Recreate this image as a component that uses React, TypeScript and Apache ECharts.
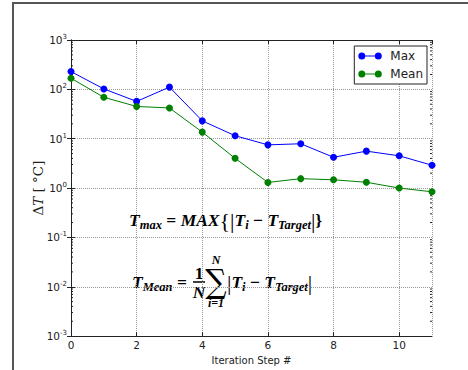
import React, { useEffect, useRef } from 'react';
import * as echarts from 'echarts';

const STEPS = [0, 1, 2, 3, 4, 5, 6, 7, 8, 9, 10, 11];
const MAX_VALUES = [229, 102, 57, 111, 23, 11.5, 7.5, 7.9, 4.2, 5.6, 4.5, 2.9];
const MEAN_VALUES = [168, 69, 45, 42, 13.6, 4.0, 1.3, 1.55, 1.47, 1.31, 1.0, 0.84];
const SERIES_NAMES = ['Max', 'Mean'];
const X_MIN = 0;
const X_MAX = 11;
const X_INTERVAL = 2;
const Y_MIN = 0.001;
const Y_MAX = 1000;
const DECADES = [0.001, 0.01, 0.1, 1, 10, 100];
const MINOR_MULTIPLIERS = [2, 3, 4, 5, 6, 7, 8, 9];

const MINOR_TICKS: number[][] = [];
DECADES.forEach((d) => MINOR_MULTIPLIERS.forEach((m) => MINOR_TICKS.push([X_MIN, d * m])));

const TXT = '#222';
const SANS = 'DejaVu Sans';
const SERIF = 'Liberation Serif';

const LEGEND_ICON =
  'path://M0,3.5A3.5,3.5,0,1,0,7,3.5A3.5,3.5,0,1,0,0,3.5Z' +
  'M16.5,3.5A3.5,3.5,0,1,0,23.5,3.5A3.5,3.5,0,1,0,16.5,3.5Z' +
  'M7,3L16.5,3L16.5,4L7,4Z' +
  'M27,3.5';

const mathRich = {
  m: { fontSize: 17.5, fontFamily: SERIF, fontWeight: 'bold', fontStyle: 'italic', fill: '#000' },
  u: { fontSize: 17.5, fontFamily: SERIF, fontWeight: 'bold', fill: '#000' },
  s: { fontSize: 12.5, fontFamily: SERIF, fontWeight: 'bold', fontStyle: 'italic', padding: [9, 0, 0, 0], fill: '#000' },
  d: { fontSize: 22, fontFamily: SERIF, fill: '#000' },
};

export default function App() {
  const ref = useRef<HTMLDivElement>(null);
  useEffect(() => {
    document.body.style.margin = '0';
    const chart = echarts.init(ref.current!, null, { renderer: 'svg' });
    const sideAxis = {
      axisLine: { show: true, lineStyle: { color: TXT, width: 1 } },
      axisTick: { show: true, inside: true, length: 4, lineStyle: { color: TXT } },
      axisLabel: { show: false },
      splitLine: { show: false },
    };
    const mathText = (x: number, y: number, text: string, extra: any = {}) => ({
      type: 'text',
      silent: true,
      x,
      y,
      style: {
        text,
        align: extra.align || 'left',
        verticalAlign: 'middle',
        fontSize: 17.5,
        fontFamily: SERIF,
        fontWeight: 'bold',
        fill: '#000',
        rich: mathRich,
        ...(extra.style || {}),
      },
    });
    chart.setOption({
      animation: false,
      backgroundColor: '#fff',
      grid: { left: 71, right: 36, top: 40, bottom: 33 },
      legend: {
        data: SERIES_NAMES.map((n) => ({ name: n, icon: LEGEND_ICON })),
        orient: 'vertical',
        right: 41,
        top: 46,
        itemWidth: 27,
        itemHeight: 7,
        itemGap: 6,
        padding: [4, 4, 4, 4],
        borderColor: TXT,
        borderWidth: 1,
        backgroundColor: '#fff',
        borderRadius: 0,
        textStyle: { fontSize: 12, fontFamily: SANS, color: TXT },
      },
      xAxis: [
        {
          type: 'value',
          min: X_MIN,
          max: X_MAX,
          interval: X_INTERVAL,
          name: 'Iteration Step #',
          nameLocation: 'middle',
          nameGap: 13,
          nameTextStyle: { fontSize: 10, fontFamily: SANS, color: TXT },
          axisLine: { show: true, lineStyle: { color: TXT, width: 1 } },
          axisTick: { show: true, inside: true, length: 4, lineStyle: { color: TXT } },
          axisLabel: { fontSize: 10.5, fontFamily: SANS, color: TXT, margin: 3, showMaxLabel: false },
          splitLine: { show: true, lineStyle: { color: '#999', type: 'dotted', width: 1 } },
        },
        { type: 'value', position: 'top', min: X_MIN, max: X_MAX, interval: X_INTERVAL, ...sideAxis },
      ],
      yAxis: [
        {
          type: 'log',
          logBase: 10,
          min: Y_MIN,
          max: Y_MAX,
          splitNumber: 6,
          name: '{r|Δ}{i|T}{r| [ °C]}',
          nameLocation: 'middle',
          nameGap: 26,
          nameMoveOverlap: false,
          nameTextStyle: {
            rich: {
              r: { fontSize: 13.5, fontFamily: 'DejaVu Serif', color: TXT },
              i: { fontSize: 13.5, fontFamily: 'DejaVu Serif', fontStyle: 'italic', color: TXT },
            },
          },
          axisLine: { show: true, lineStyle: { color: TXT, width: 1 } },
          axisTick: { show: true, inside: true, length: 4, lineStyle: { color: TXT } },
          axisLabel: {
            margin: 4,
            formatter: (v: number) => `{b|10}{s|${Math.round(Math.log10(v))}}`,
            rich: {
              b: { fontSize: 10.5, fontFamily: SANS, color: TXT },
              s: { fontSize: 7, fontFamily: SANS, color: TXT, padding: [0, 0, 6, 0] },
            },
          },
          splitLine: { show: true, lineStyle: { color: '#999', type: 'dotted', width: 1 } },
        },
        { type: 'log', logBase: 10, position: 'right', min: Y_MIN, max: Y_MAX, splitNumber: 6, ...sideAxis },
      ],
      series: [
        {
          name: SERIES_NAMES[0],
          type: 'line',
          data: STEPS.map((s, i) => [s, MAX_VALUES[i]]),
          symbol: 'circle',
          symbolSize: 7,
          color: '#0000ff',
          lineStyle: { width: 1, color: '#0000ff' },
          itemStyle: { color: '#0000ff' },
          z: 3,
        },
        {
          name: SERIES_NAMES[1],
          type: 'line',
          data: STEPS.map((s, i) => [s, MEAN_VALUES[i]]),
          symbol: 'circle',
          symbolSize: 7,
          color: '#008000',
          lineStyle: { width: 1, color: '#008000' },
          itemStyle: { color: '#008000' },
          z: 3,
        },
        {
          type: 'custom',
          silent: true,
          data: MINOR_TICKS,
          encode: { x: 0, y: 1 },
          renderItem: (params: any, api: any) => {
            const v = api.value(1);
            const l = api.coord([X_MIN, v]);
            const r = api.coord([X_MAX, v]);
            const st = { stroke: TXT, lineWidth: 1 };
            return {
              type: 'group',
              children: [
                { type: 'line', shape: { x1: l[0], y1: l[1], x2: l[0] + 2, y2: l[1] }, style: st },
                { type: 'line', shape: { x1: r[0], y1: r[1], x2: r[0] - 2, y2: r[1] }, style: st },
              ],
            };
          },
        },
      ],
      graphic: [
        {
          type: 'rect',
          silent: true,
          shape: { x: 13, y: 3, width: 600, height: 600 },
          style: { fill: 'none', stroke: '#555', lineWidth: 2 },
        },
        mathText(129, 220, '{m|T}{s|max}{u| = }{m|MAX}{d|{}{d||}{m|T}{s|i}{u| − }{m|T}{s|Target}{d||}}'),
        mathText(132, 282, '{m|T}{s|Mean}{u| =}'),
        mathText(199, 273.3, '1', { align: 'center' }),
        {
          type: 'line',
          silent: true,
          shape: { x1: 193, y1: 282, x2: 205, y2: 282 },
          style: { stroke: '#000', lineWidth: 1.5 },
        },
        mathText(199, 292, 'N', { align: 'center', style: { fontStyle: 'italic' } }),
        {
          type: 'text',
          silent: true,
          x: 216,
          y: 281,
          scaleY: 1.1,
          style: { text: '∑', align: 'center', verticalAlign: 'middle', fontSize: 30, fontFamily: 'DejaVu Serif', fill: '#000' },
        },
        mathText(216, 259.5, 'N', { align: 'center', style: { fontSize: 12, fontStyle: 'italic' } }),
        mathText(216, 302.5, 'i=1', { align: 'center', style: { fontSize: 12, fontStyle: 'italic' } }),
        mathText(227, 282, '{d||}{m|T}{s|i}{u| − }{m|T}{s|Target}{d||}'),
      ],
    });
    return () => chart.dispose();
  }, []);
  return <div ref={ref} style={{ position: 'absolute', left: 0, top: 0, width: 468, height: 370 }} />;
}
